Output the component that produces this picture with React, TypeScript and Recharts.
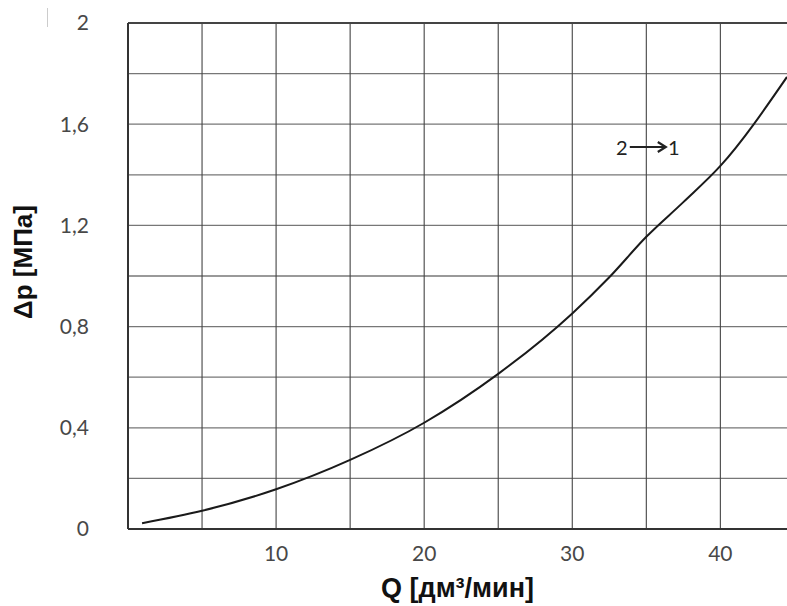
import React from 'react';
import { LineChart, Line, XAxis, YAxis, CartesianGrid, ReferenceLine, ReferenceDot, Label } from 'recharts';

const qValues = [0.95, 5, 10, 15, 20, 25, 30, 32.5, 35, 37.5, 40, 44.5];
const dpValues = [0.023, 0.072, 0.157, 0.273, 0.42, 0.613, 0.852, 0.995, 1.155, 1.292, 1.435, 1.787];
const xTicks = [10, 20, 30, 40];
const yTicks = [0, 0.4, 0.8, 1.2, 1.6, 2];
const xGrid = [5, 10, 15, 20, 25, 30, 35, 40];
const yGrid = [0.2, 0.4, 0.6, 0.8, 1.0, 1.2, 1.4, 1.6, 1.8];
const xTitle = 'Q [дм³/мин]';
const yTitle = 'Δp [МПа]';
const annotation = { q: 35.1, dp: 1.51, from: '2', to: '1' };

const data = qValues.map((q, i) => ({ q, dp: dpValues[i] }));

const tickFont = { fill: '#484848', fontSize: 21, fontFamily: 'Lato, "Noto Sans", sans-serif' };
const titleFont = 'Liberation Sans, Arial, sans-serif';

const XTitle = (props: any) => {
  const vb = props.viewBox;
  return (
    <text x={vb.x + vb.width / 2} y={vb.y + 68} textAnchor="middle" fontFamily={titleFont} fontWeight="bold" fontSize={27} fill="#111">
      {xTitle}
    </text>
  );
};

const YTitle = (props: any) => {
  const vb = props.viewBox;
  const x = vb.x + 23;
  const y = vb.y + vb.height / 2 - 14;
  return (
    <text x={x} y={y} transform={`rotate(-90, ${x}, ${y})`} textAnchor="middle" dominantBaseline="central" fontFamily={titleFont} fontWeight="bold" fontSize={26} fill="#111">
      {yTitle}
    </text>
  );
};

const ArrowLabel = (props: any) => {
  const vb = props.viewBox;
  const cx = vb.x + vb.width / 2;
  const cy = vb.y + vb.height / 2;
  return (
    <g>
      <text x={cx - 26} y={cy} textAnchor="middle" dominantBaseline="central" fontFamily='Lato, "Noto Sans", sans-serif' fontSize={20} fill="#222">{annotation.from}</text>
      <line x1={cx - 18} y1={cy} x2={cx + 17} y2={cy} stroke="#222" strokeWidth={2} />
      <path d={`M ${cx + 10} ${cy - 5} L ${cx + 18} ${cy} L ${cx + 10} ${cy + 5}`} fill="none" stroke="#222" strokeWidth={2.2} />
      <text x={cx + 26} y={cy} textAnchor="middle" dominantBaseline="central" fontFamily='Lato, "Noto Sans", sans-serif' fontSize={20} fill="#222">{annotation.to}</text>
    </g>
  );
};

export default function App() {
  return (
    <div style={{ position: 'absolute', left: 0, top: 0, width: 787, height: 606, background: '#fff' }}>
      <div style={{ position: 'absolute', left: 47, top: 8, width: 1, height: 19, background: '#ccc' }} />
      <LineChart width={787} height={606} data={data} margin={{ top: 23, right: 0, bottom: 0, left: 0 }}>
        <CartesianGrid vertical={false} horizontalValues={yGrid} stroke="#777" strokeWidth={1.3} />
        <CartesianGrid horizontal={false} verticalValues={xGrid} stroke="#444" strokeWidth={1.1} />
        <XAxis
          type="number"
          dataKey="q"
          domain={[0, 44.5]}
          ticks={xTicks}
          allowDataOverflow
          height={77}
          tickSize={0}
          tickMargin={17}
          axisLine={{ stroke: '#333', strokeWidth: 2 }}
          tickLine={false}
          tick={tickFont}
        >
          <Label content={<XTitle />} />
        </XAxis>
        <YAxis
          type="number"
          domain={[0, 2]}
          ticks={yTicks}
          width={128}
          tickSize={0}
          tickMargin={39}
          tickFormatter={(v: number) => String(v).replace('.', ',')}
          axisLine={{ stroke: '#333', strokeWidth: 2 }}
          tickLine={false}
          tick={tickFont}
        >
          <Label content={<YTitle />} />
        </YAxis>
        <ReferenceLine y={2} stroke="#444" strokeWidth={2} />
        <Line type="monotone" dataKey="dp" stroke="#1a1a1a" strokeWidth={2} dot={false} isAnimationActive={false} />
        <ReferenceDot x={annotation.q} y={annotation.dp} r={0} stroke="none" fill="none">
          <Label content={<ArrowLabel />} />
        </ReferenceDot>
      </LineChart>
    </div>
  );
}
